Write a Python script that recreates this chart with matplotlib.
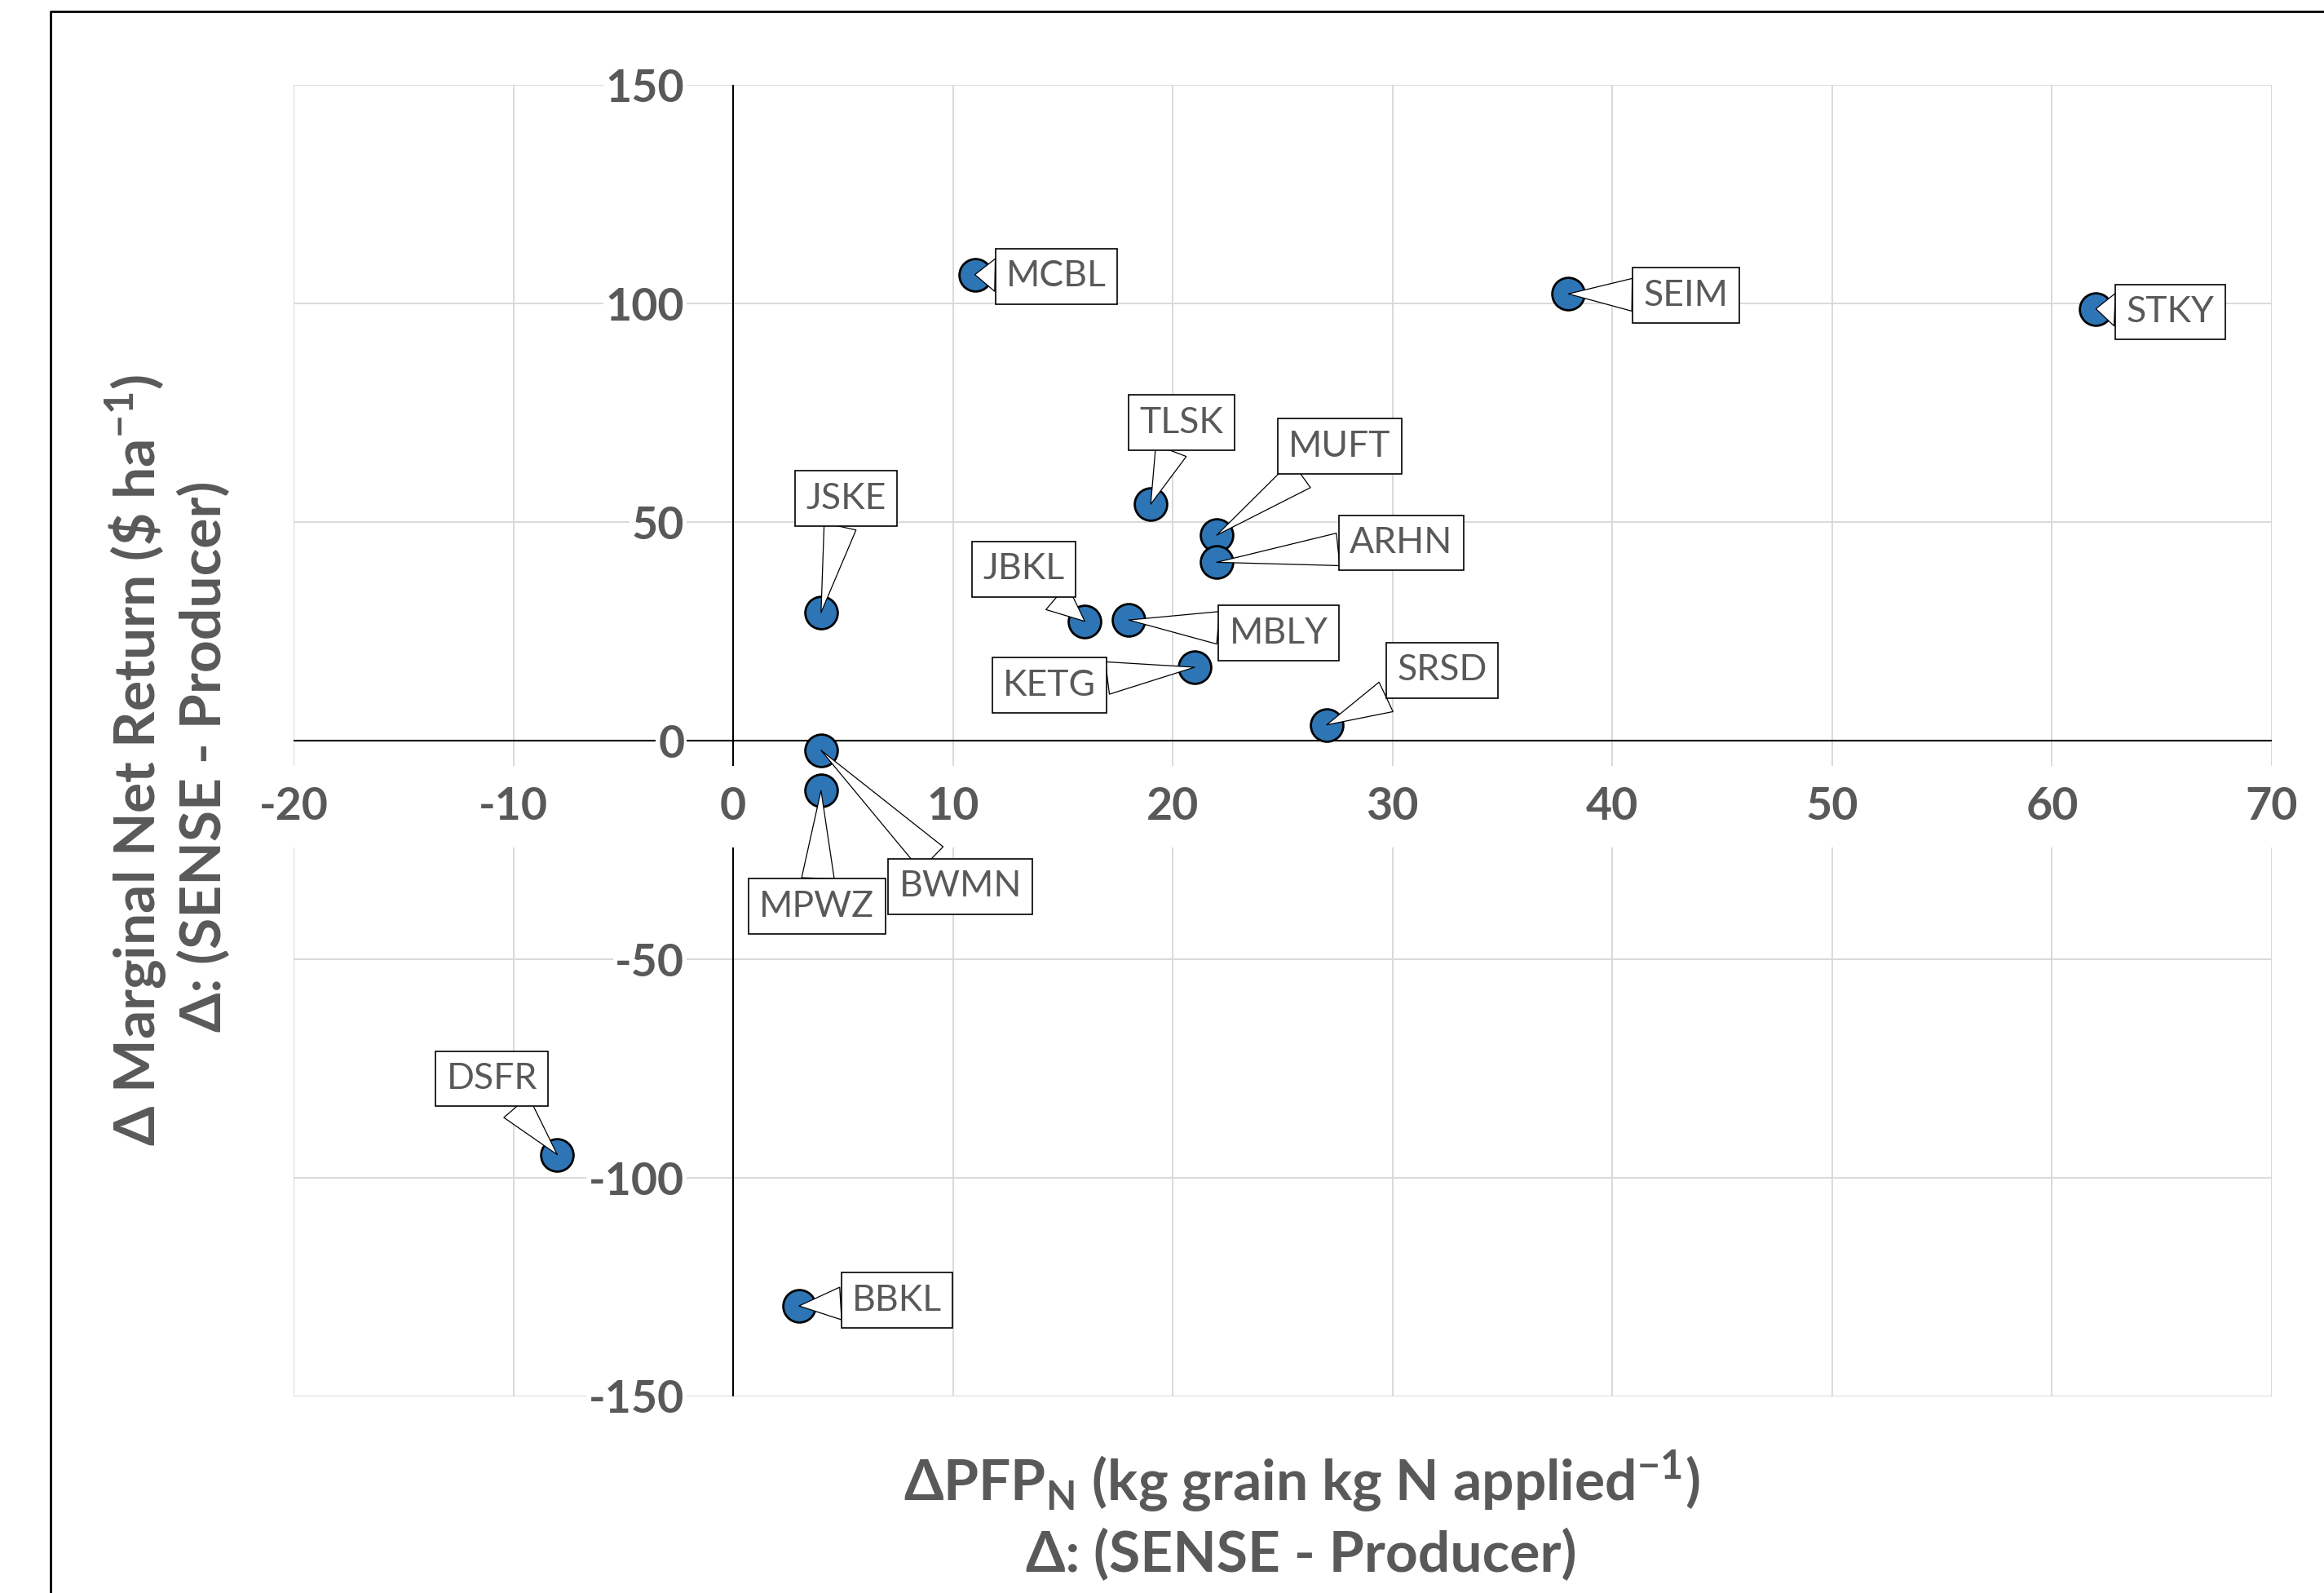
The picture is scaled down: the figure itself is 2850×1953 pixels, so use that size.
import matplotlib.pyplot as plt
from matplotlib.lines import Line2D

# site codes and values
sites = ["MCBL", "SEIM", "STKY", "TLSK", "MUFT", "ARHN", "JSKE", "JBKL",
         "MBLY", "KETG", "SRSD", "BWMN", "MPWZ", "DSFR", "BBKL"]
d_pfpn = [11, 38, 62, 19, 22, 22, 4, 16, 18, 21, 27, 4, 4, -8, 3]
d_mnr = [106.6, 102.2, 98.8, 54.1, 47.0, 40.8, 29.3, 27.3, 27.6, 16.8,
         3.6, -2.2, -11.4, -94.7, -129.3]

xticks = [-20, -10, 0, 10, 20, 30, 40, 50, 60, 70]
yticks = [-150, -100, -50, 0, 50, 100, 150]

# callout box offsets from each point, in pixels (x right, y up)
label_off = [(100, -2), (144, -2), (91, -4), (38, 100), (151, 109), (226, 24),
             (31, 140), (-75, 64), (184, -16), (-178, -22), (142, 67),
             (171, -167), (-5, -142), (-80, 93), (120, 7)]

grey = "#595959"
plt.rcParams['font.family'] = ['Lato', 'DejaVu Sans']
plt.rcParams['mathtext.fontset'] = 'custom'
plt.rcParams['mathtext.rm'] = 'Lato:bold'
plt.rcParams['axes.unicode_minus'] = False

fig = plt.figure(figsize=(28.5, 19.53), dpi=100)
ax = fig.add_axes([0.1263, 0.1234, 0.8512, 0.8233])
ax.set_xlim(-20, 70)
ax.set_ylim(-150, 150)

# light grid, drawn by hand so the axis lines at zero stay black
ax.vlines([t for t in xticks if t != 0], -150, 150, color="#d9d9d9", lw=1.4, zorder=0.5)
ax.hlines([t for t in yticks if t != 0], -20, 70, color="#d9d9d9", lw=1.4, zorder=0.5)
ax.axvline(0, color="black", lw=1.5, zorder=1)
ax.axhline(0, color="black", lw=1.5, zorder=1)

for s in ax.spines.values():
    s.set_visible(False)
ax.spines['left'].set_position(('data', 0))
ax.spines['bottom'].set_position(('data', 0))

ax.set_xticks(xticks)
ax.set_yticks(yticks)
ax.tick_params(axis='x', length=0, pad=40, labelsize=40, labelcolor=grey)
ax.tick_params(axis='y', length=0, pad=43, labelsize=40, labelcolor=grey)
for lab in ax.get_xticklabels():
    lab.set_fontweight('bold')
    lab.set_bbox(dict(boxstyle='square,pad=0.45', facecolor='white', edgecolor='none'))
for lab in ax.get_yticklabels():
    lab.set_fontweight('bold')
    lab.set_bbox(dict(boxstyle='square,pad=0.05', facecolor='white', edgecolor='none'))
ax.xaxis.set_zorder(2)
ax.yaxis.set_zorder(2)

ax.scatter(d_pfpn, d_mnr, s=820, color="#2e75b6", edgecolor="black", linewidth=2.0, zorder=3)

for name, x, y, off in zip(sites, d_pfpn, d_mnr, label_off):
    ax.annotate(name, (x, y), xytext=off, textcoords='offset pixels',
                ha='center', va='center', fontsize=32, color=grey, zorder=4,
                bbox=dict(boxstyle='square,pad=0.3', facecolor='white', edgecolor='black', lw=1.2),
                arrowprops=dict(arrowstyle='wedge,tail_width=0.9,shrink_factor=0.5',
                                facecolor='white', edgecolor='black', lw=0.9,
                                shrinkA=0, shrinkB=0))

# axis titles
fig.text(0.56, 0.0579, r"ΔPFP$_\mathregular{N}$ (kg grain kg N applied$^\mathregular{-1}$)",
         ha='center', va='baseline', fontsize=50, fontweight='bold', color=grey)
fig.text(0.56, 0.0133, "Δ: (SENSE - Producer)",
         ha='center', va='baseline', fontsize=50, fontweight='bold', color=grey)
fig.text(167 / 2850, 1 - 932 / 1953, r"Δ Marginal Net Return (\$ ha$^\mathregular{-1}$)",
         rotation=90, ha='center', va='center', fontsize=50, fontweight='bold', color=grey)
fig.text(251 / 2850, 1 - 927 / 1953, "Δ: (SENSE - Producer)",
         rotation=90, ha='center', va='center', fontsize=50, fontweight='bold', color=grey)

# outer frame, cut off on the right and bottom
fig.add_artist(Line2D([62 / 2850, 62 / 2850, 1.0], [0.0, 1 - 14 / 1953, 1 - 14 / 1953],
                      transform=fig.transFigure, color='black', lw=2))

fig.savefig("out.png", dpi=100)
